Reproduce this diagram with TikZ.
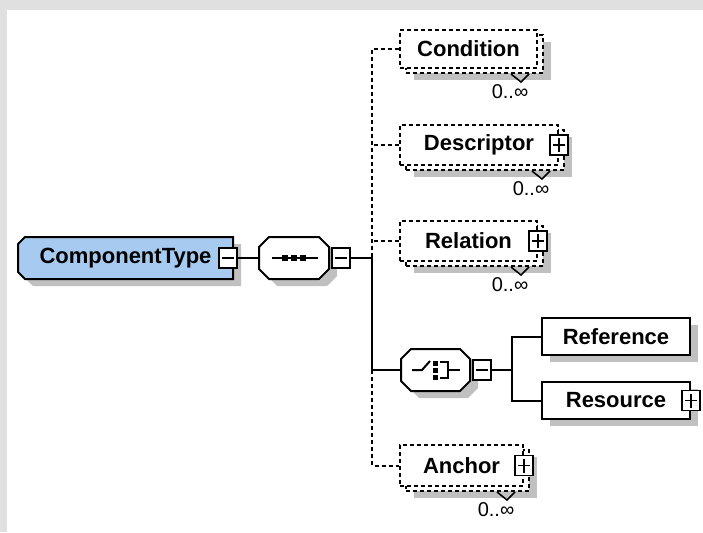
\documentclass[tikz,border=0pt]{standalone}
\usepackage{fontspec}
\setmainfont{Liberation Sans}
\usetikzlibrary{positioning, shadows, backgrounds}
\definecolor{cbg}{HTML}{E0E0E0}
\definecolor{cshadow}{HTML}{C0C0C0}
\definecolor{cblue}{HTML}{A6CAF0}
\newcommand{\octpath}[2]{([xshift=#2]#1.north west) -- ([xshift=-#2]#1.north east) -- ([yshift=-#2]#1.north east)
  -- ([yshift=#2]#1.south east) -- ([xshift=-#2]#1.south east) -- ([xshift=#2]#1.south west)
  -- ([yshift=#2]#1.south west) -- ([yshift=-#2]#1.north west) -- cycle}
\newcommand{\leftcutpath}[2]{([xshift=#2]#1.north west) -- (#1.north east) -- (#1.south east) -- ([xshift=#2]#1.south west)
  -- ([yshift=#2]#1.south west) -- ([yshift=-#2]#1.north west) -- cycle}
\tikzset{
  every picture/.style={line width=2pt},
  elemfont/.style={font=\fontsize{22}{26}\selectfont\bfseries},
  elem/.style={draw, fill=white, elemfont, inner sep=0pt, minimum height=37pt,
    general shadow={fill=cshadow, shadow xshift=8pt, shadow yshift=-7pt}},
  optelem/.style={draw, fill=white, elemfont, inner sep=0pt, dash pattern=on 4pt off 3pt,
    general shadow={fill=cshadow, shadow xshift=14pt, shadow yshift=-12pt},
    copy shadow={shadow xshift=6pt, shadow yshift=-5pt, line width=2pt, dash pattern=on 4pt off 3pt}},
  group/.style={inner sep=0pt, minimum height=40pt},
  octshadow/.style={fill=cshadow, transform canvas={shift={(8pt,-7pt)}}},
  octline/.style={draw=black, line width=2pt, fill=#1},
  pmbox/.style={draw, fill=white, line width=1.5pt, inner sep=0pt, minimum width=18pt, minimum height=20pt},
  minusbox/.style={pmbox, path picture={
    \draw[line width=1.5pt] ([xshift=3pt]path picture bounding box.west) -- ([xshift=-3pt]path picture bounding box.east);}},
  plusbox/.style={pmbox, path picture={
    \draw[line width=1.5pt] ([xshift=3pt]path picture bounding box.west) -- ([xshift=-3pt]path picture bounding box.east);
    \draw[line width=1.5pt] ([yshift=-3pt]path picture bounding box.north) -- ([yshift=3pt]path picture bounding box.south);}},
  optline/.style={dash pattern=on 4pt off 3pt},
  mult/.style={font=\fontsize{20}{24}\selectfont, inner sep=0pt, anchor=north},
}

\begin{document}
\begin{tikzpicture}[x=1pt, y=-1pt]
  \begin{scope}[on background layer]
    \fill[cbg] (0,0) rectangle (703,532);
    \fill[white] (7,10) rectangle (703,532);
  \end{scope}

  % root and sequence
  \node[group, elemfont, minimum width=213pt] (ctype) at (125.5,258) {ComponentType\hspace{13pt}};
  \node[minusbox] (ctmin) at (228,258) {};
  \node[group, minimum width=68pt] (seq) at (294,258) {};
  \node[minusbox, right=2pt of seq] (seqmin) {};
  \node[group, minimum width=67pt] (choice) at (435.5,370) {};
  \node[minusbox, right=2pt of choice] (chmin) {};
  \begin{scope}[on background layer]
    \fill[octshadow] \leftcutpath{ctype}{7pt};
    \path[octline=cblue] \leftcutpath{ctype}{7pt};
    \foreach \n in {seq,choice} {
      \fill[octshadow] \octpath{\n}{10pt};
      \path[octline=white] \octpath{\n}{10pt};
    }
  \end{scope}
  \draw ([xshift=-22pt]seq.center) -- ([xshift=24pt]seq.center);
  \foreach \d in {-9,0,9} {\fill ([xshift=\d pt]seq.center) +(-3,-3) rectangle +(3,3);}

  % children of the sequence
  \node[optelem, minimum width=137pt, minimum height=38pt] (cond) at (468.5,49) {Condition};
  \node[optelem, minimum width=158pt, minimum height=40pt] (desc) at (479,145) {Descriptor\hspace{8pt}};
  \node[optelem, minimum width=137pt, minimum height=40pt] (rel) at (468.5,241) {Relation};
  \node[optelem, minimum width=123pt, minimum height=41pt] (anch) at (461.5,465.5) {Anchor\hspace{5pt}};
  \foreach \n in {desc,rel,anch} {\node[plusbox] (\n-plus) at (\n.east) {};}
  \foreach \n in {cond,desc,rel,anch} {
    \draw[line width=1.5pt] ([shift={(-27,5)}]\n.south east) -- ++(10,8) -- ++(8,-8);
    \node[mult] (\n-mult) at ([shift={(-28,15)}]\n.south east) {0..∞};
  }

  % choice icon
  \draw ([xshift=-23.5pt]choice.center) -- ([xshift=-13.5pt]choice.center) -- ++(8,-9);
  \foreach \d in {-7,0,7} {\fill ([shift={(-0.5,\d)}]choice.center) +(-2.5,-2.5) rectangle +(2.5,2.5);}
  \draw ([shift={(4,-8)}]choice.center) -- ++(8,0) -- ++(0,16) -- ++(-8,0);
  \draw ([xshift=12pt]choice.center) -- ([xshift=24.5pt]choice.center);

  % children of the choice
  \node[elem, minimum width=148pt] (ref) at (616,336.5) {Reference};
  \node[elem, minimum width=148pt] (res) at (616,400.5) {Resource\hspace{4pt}};
  \node[plusbox] (res-plus) at (res.east) {};

  % connectors
  \coordinate (jseq) at (372,258);
  \coordinate (jch) at (372,370);
  \coordinate (jbr) at (512,370);
  \draw (ctmin.east) -- (seq.west);
  \draw (seqmin.east) -- (jseq) -- (jch) -- (choice.west);
  \draw[optline] (cond.west) -| (jseq);
  \draw[optline] (desc.west) -- (desc.west -| jseq);
  \draw[optline] (rel.west) -- (rel.west -| jseq);
  \draw[optline] (jch) |- (anch.west);
  \draw (chmin.east) -- (jbr);
  \draw (jbr) |- (ref.west);
  \draw (jbr) |- (res.west);
\end{tikzpicture}
\end{document}
